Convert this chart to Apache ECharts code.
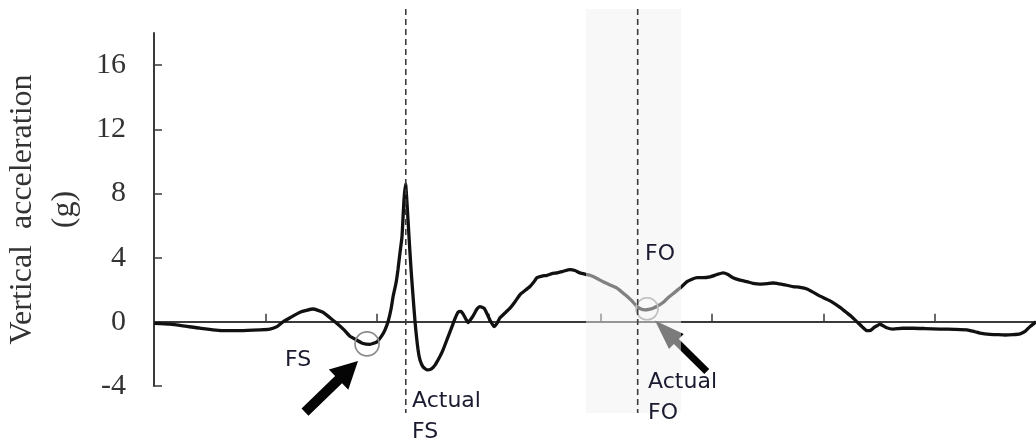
<!DOCTYPE html>
<html>
<head>
<meta charset="utf-8">
<script src="https://cdn.jsdelivr.net/npm/echarts@6/dist/echarts.min.js"></script>
<style>
  html, body { margin: 0; padding: 0; background: #ffffff; }
  #chart { width: 1036px; height: 443px; }
</style>
</head>
<body>
<div id="chart"></div>
<script>
// ---- Data ----
const yTicks = [-4, 0, 4, 8, 12, 16];
const xTicks = [1, 2, 3, 4, 5, 6, 7];

const timeX = [
  0, 0.143, 0.260, 0.412, 0.618, 0.771, 0.950, 1.039, 1.102, 1.156, 1.219, 1.308, 1.425, 1.514, 1.577,
  1.640, 1.703, 1.756, 1.819, 1.873, 1.935, 1.998, 2.043, 2.070, 2.097, 2.124, 2.142, 2.168, 2.186,
  2.204, 2.222, 2.240, 2.254, 2.267, 2.285, 2.303, 2.321, 2.339, 2.366, 2.384, 2.410, 2.446, 2.482,
  2.518, 2.563, 2.590, 2.634, 2.670, 2.697, 2.724, 2.751, 2.769, 2.796, 2.814, 2.832, 2.858, 2.894,
  2.921, 2.957, 2.984, 3.011, 3.047, 3.073, 3.100, 3.145, 3.190, 3.235, 3.280, 3.324, 3.369, 3.405,
  3.432, 3.477, 3.522, 3.566, 3.611, 3.665, 3.728, 3.772, 3.817, 3.907, 3.970, 4.023, 4.086, 4.149,
  4.194, 4.238, 4.283, 4.328, 4.364, 4.400, 4.435, 4.471, 4.516, 4.561, 4.606, 4.651, 4.713, 4.776,
  4.821, 4.866, 4.919, 4.982, 5.045, 5.099, 5.143, 5.188, 5.251, 5.314, 5.367, 5.430, 5.493, 5.547,
  5.582, 5.654, 5.726, 5.789, 5.851, 5.905, 5.968, 6.030, 6.084, 6.147, 6.210, 6.254, 6.299, 6.344,
  6.389, 6.416, 6.452, 6.478, 6.505, 6.559, 6.622, 6.711, 6.801, 6.909, 7.043, 7.177, 7.285, 7.357,
  7.401, 7.491, 7.554, 7.625, 7.697, 7.760, 7.805, 7.849, 7.903
];
const accel = [
  -0.10, -0.15, -0.25, -0.40, -0.55, -0.55, -0.50, -0.45, -0.30, 0.00, 0.25, 0.60, 0.80, 0.60, 0.25,
  -0.10, -0.50, -0.90, -1.15, -1.35, -1.40, -1.25, -0.85, -0.50, 0.00, 0.80, 1.56, 2.40, 3.25,
  4.30, 5.30, 7.60, 8.60, 7.40, 5.30, 3.30, 1.60, 0.00, -1.75, -2.40, -2.80, -3.00, -2.95,
  -2.70, -2.15, -1.75, -0.95, -0.30, 0.20, 0.60, 0.65, 0.50, 0.15, -0.05, 0.10, 0.35, 0.80,
  0.95, 0.85, 0.50, 0.10, -0.30, -0.10, 0.25, 0.55, 0.85, 1.25, 1.70, 1.95, 2.20, 2.50,
  2.75, 2.85, 2.90, 3.00, 3.05, 3.15, 3.25, 3.20, 3.05, 2.90, 2.70, 2.50, 2.30, 2.10,
  1.85, 1.60, 1.30, 0.95, 0.80, 0.75, 0.78, 0.85, 1.00, 1.20, 1.50, 1.75, 2.10, 2.50,
  2.65, 2.75, 2.75, 2.80, 2.95, 3.05, 2.95, 2.75, 2.60, 2.50, 2.40, 2.35, 2.38, 2.42,
  2.40, 2.30, 2.20, 2.15, 2.05, 1.85, 1.60, 1.40, 1.20, 0.90, 0.55, 0.30, 0.00, -0.30,
  -0.55, -0.55, -0.35, -0.25, -0.15, -0.35, -0.45, -0.40, -0.40, -0.42, -0.45, -0.47, -0.50, -0.62,
  -0.70, -0.78, -0.80, -0.82, -0.80, -0.75, -0.60, -0.30, 0.00
];

// Annotations (in data units)
const eventLines = [2.256, 4.334];            // Actual FS, Actual FO
const eventSpan = [19.5, -5.69];              // vertical reach of dashed lines / band
const foBand = [3.871, 4.722];                // shaded window around FO
const circleCenters = [[1.909, -1.375], [4.418, 0.81]];
const arrowTails = [[1.353, -5.625], [4.953, -3.10]];
const arrowTips = [[1.828, -2.4375], [4.489, 0.08]];
const labelTexts = ['FS', 'Actual\nFS', 'FO', 'Actual\nFO'];
const labelPos = [[1.174, -2.375], [2.312, -5.906], [4.400, 4.219], [4.427, -4.75]];

// ---- Chart ----
const chart = echarts.init(document.getElementById('chart'), null, { renderer: 'canvas' });

const circleRadius = [12, 11];
const arrowDims = [ {shaft: 10, headW: 28, headL: 27}, {shaft: 7, headW: 21, headL: 30} ];

function arrowPoints(T, P, d) {
  const dx = P[0] - T[0], dy = P[1] - T[1];
  const len = Math.sqrt(dx * dx + dy * dy);
  const ux = dx / len, uy = dy / len;
  const nx = -uy, ny = ux;
  const bx = P[0] - ux * d.headL, by = P[1] - uy * d.headL;
  const s = d.shaft / 2, h = d.headW / 2;
  return [
    [T[0] + nx * s, T[1] + ny * s],
    [bx + nx * s, by + ny * s],
    [bx + nx * h, by + ny * h],
    [P[0], P[1]],
    [bx - nx * h, by - ny * h],
    [bx - nx * s, by - ny * s],
    [T[0] - nx * s, T[1] - ny * s]
  ];
}

const option = {
  backgroundColor: '#ffffff',
  animation: false,
  grid: { left: 154, right: 0, top: 33, bottom: 57, containLabel: false, outerBoundsMode: 'none' },
  xAxis: {
    type: 'value',
    min: 0, max: 7.903,
    axisLine: { onZero: true, lineStyle: { color: '#3a3a3a', width: 2 } },
    axisTick: { inside: true, length: 8, customValues: xTicks, lineStyle: { color: '#3a3a3a', width: 1.5 } },
    axisLabel: { show: false },
    splitLine: { show: false }
  },
  yAxis: {
    type: 'value',
    min: -4, max: 18,
    name: 'Vertical  acceleration\n(g)',
    nameLocation: 'middle',
    nameGap: 64,
    nameTextStyle: { fontFamily: 'Liberation Serif', fontSize: 32, lineHeight: 42, color: '#333333' },
    axisLine: { show: true, lineStyle: { color: '#3a3a3a', width: 2 } },
    axisTick: { show: true, inside: true, length: 8, customValues: yTicks, lineStyle: { color: '#3a3a3a', width: 1.5 } },
    axisLabel: { customValues: yTicks, margin: 28, fontFamily: 'Liberation Serif', fontSize: 30, color: '#333333' },
    splitLine: { show: false }
  },
  series: [
    {
      type: 'line',
      data: timeX.map((x, i) => [x, accel[i]]),
      showSymbol: false,
      smooth: 0.15,
      lineStyle: { color: '#111111', width: 3.3 },
      z: 2,
      silent: true
    },
    {
      type: 'custom',
      clip: false,
      silent: true,
      z: 3,
      data: circleCenters.map((c, i) => [c[0], c[1], i]),
      renderItem: function (params, api) {
        const p = api.coord([api.value(0), api.value(1)]);
        const i = api.value(2);
        return { type: 'circle', shape: { cx: p[0], cy: p[1], r: circleRadius[i] },
          style: { fill: 'none', stroke: '#8a8a8a', lineWidth: 1.6 } };
      }
    },
    {
      type: 'custom',
      clip: false,
      silent: true,
      z: 3,
      data: arrowTails.map((t, i) => [t[0], t[1], arrowTips[i][0], arrowTips[i][1], i]),
      renderItem: function (params, api) {
        const T = api.coord([api.value(0), api.value(1)]);
        const P = api.coord([api.value(2), api.value(3)]);
        const i = api.value(4);
        return { type: 'polygon', shape: { points: arrowPoints(T, P, arrowDims[i]) },
          style: { fill: '#050505' } };
      }
    },
    {
      type: 'custom',
      clip: false,
      silent: true,
      z: 4,
      data: [[foBand[0], eventSpan[0], foBand[1], eventSpan[1]]],
      renderItem: function (params, api) {
        const a = api.coord([api.value(0), api.value(1)]);
        const b = api.coord([api.value(2), api.value(3)]);
        return { type: 'rect', shape: { x: a[0], y: a[1], width: b[0] - a[0], height: b[1] - a[1] },
          style: { fill: 'rgba(241,241,241,0.5)' } };
      }
    },
    {
      type: 'custom',
      clip: false,
      silent: true,
      z: 5,
      data: eventLines.map(x => [x, eventSpan[0], eventSpan[1]]),
      renderItem: function (params, api) {
        const a = api.coord([api.value(0), api.value(1)]);
        const b = api.coord([api.value(0), api.value(2)]);
        return { type: 'line', shape: { x1: a[0], y1: a[1], x2: b[0], y2: b[1] },
          style: { stroke: '#3c3c3c', lineWidth: 1.6, lineDash: [6, 4] } };
      }
    },
    {
      type: 'custom',
      clip: false,
      silent: true,
      z: 6,
      data: labelPos.map((p, i) => [p[0], p[1], i]),
      renderItem: function (params, api) {
        const p = api.coord([api.value(0), api.value(1)]);
        const i = api.value(2);
        return { type: 'text', x: p[0], y: p[1],
          style: { text: labelTexts[i], fontFamily: 'DejaVu Sans', fontSize: 22, lineHeight: 31,
            fill: '#1a1b30', align: 'left', verticalAlign: 'middle' } };
      }
    }
  ]
};

chart.setOption(option);
</script>
</body>
</html>
